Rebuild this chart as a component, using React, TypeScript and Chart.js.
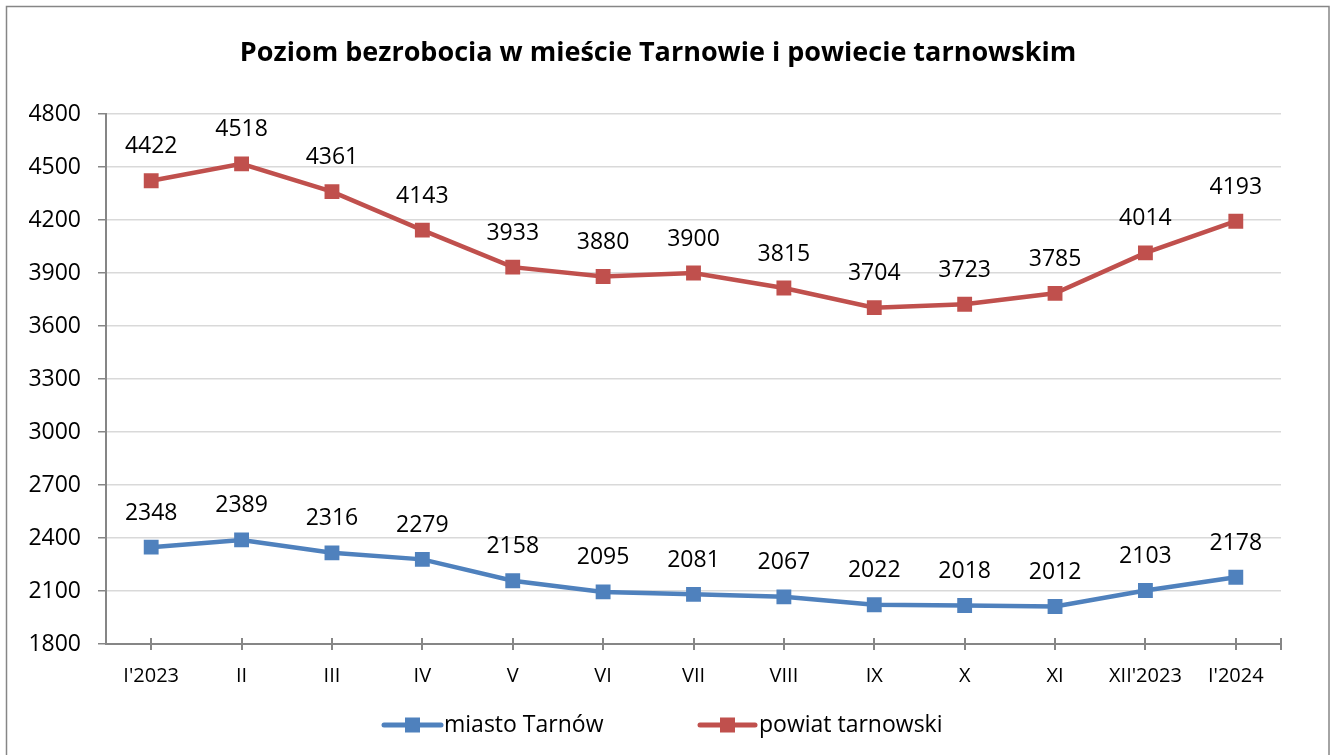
import React, { useEffect, useRef } from "react";
import { Chart, registerables } from "chart.js";

Chart.register(...registerables);

const categories = ["I'2023", "II", "III", "IV", "V", "VI", "VII", "VIII", "IX", "X", "XI", "XII'2023", "I'2024"];
const miastoTarnow = [2348, 2389, 2316, 2279, 2158, 2095, 2081, 2067, 2022, 2018, 2012, 2103, 2178];
const powiatTarnowski = [4422, 4518, 4361, 4143, 3933, 3880, 3900, 3815, 3704, 3723, 3785, 4014, 4193];
const yTicks = [1800, 2100, 2400, 2700, 3000, 3300, 3600, 3900, 4200, 4500, 4800];
const titleText = "Poziom bezrobocia w mieście Tarnowie i powiecie tarnowskim";
const seriesNames = ["miasto Tarnów", "powiat tarnowski"];

const BLUE = "#4F81BD";
const RED = "#C0504D";
const AXIS = "#868686";
const GRID = "#D9D9D9";
const FONT = "'Open Sans', sans-serif";

export default function App() {
  const ref = useRef<HTMLCanvasElement | null>(null);

  useEffect(() => {
    document.body.style.margin = "0";
    const canvas = ref.current!;
    const overlay = {
      id: "overlay",
      beforeDraw(chart: any) {
        const ctx = chart.ctx;
        ctx.save();
        ctx.fillStyle = "#ffffff";
        ctx.fillRect(0, 0, chart.width, chart.height);
        ctx.restore();
      },
      afterDraw(chart: any) {
        const ctx = chart.ctx;
        const xs = chart.scales.x;
        const ys = chart.scales.y;
        ctx.save();
        // frame
        ctx.strokeStyle = AXIS;
        ctx.lineWidth = 1.5;
        ctx.strokeRect(6.5, 6.5, 1322.5, 760);
        // title
        ctx.fillStyle = "#000";
        ctx.font = `bold 27px ${FONT}`;
        ctx.textAlign = "center";
        ctx.textBaseline = "middle";
        ctx.fillText(titleText, 658, 53);
        // x tick marks (crossing the axis)
        ctx.strokeStyle = AXIS;
        ctx.lineWidth = 2;
        const axisY = ys.getPixelForValue(1800);
        const positions: number[] = categories.map((_, i) => xs.getPixelForValue(i));
        positions.push(xs.right);
        positions.forEach((px) => {
          ctx.beginPath();
          ctx.moveTo(Math.round(px), axisY - 6);
          ctx.lineTo(Math.round(px), axisY + 6);
          ctx.stroke();
        });
        // data labels
        ctx.fillStyle = "#000";
        ctx.font = `23px ${FONT}`;
        ctx.textAlign = "center";
        ctx.textBaseline = "middle";
        chart.data.datasets.forEach((ds: any, di: number) => {
          const meta = chart.getDatasetMeta(di);
          meta.data.forEach((pt: any, i: number) => {
            ctx.fillText(String(ds.data[i]), pt.x, pt.y - 34);
          });
        });
        // legend
        const legendY = 725;
        const items = [
          { x0: 384, x1: 441, color: BLUE, text: seriesNames[0], tx: 444 },
          { x0: 700, x1: 755, color: RED, text: seriesNames[1], tx: 759 },
        ];
        items.forEach((it) => {
          ctx.strokeStyle = it.color;
          ctx.lineWidth = 5;
          ctx.lineCap = "round";
          ctx.beginPath();
          ctx.moveTo(it.x0, legendY);
          ctx.lineTo(it.x1, legendY);
          ctx.stroke();
          ctx.fillStyle = it.color;
          const mx = (it.x0 + it.x1) / 2;
          ctx.fillRect(mx - 7.5, legendY - 7.5, 15, 15);
          ctx.fillStyle = "#000";
          ctx.textAlign = "left";
          ctx.font = `23px ${FONT}`;
          ctx.fillText(it.text, it.tx, legendY);
        });
        ctx.restore();
      },
    };

    const chart = new Chart(canvas, {
      type: "line",
      data: {
        labels: categories,
        datasets: [
          {
            label: seriesNames[0],
            data: miastoTarnow,
            borderColor: BLUE,
            backgroundColor: BLUE,
            borderWidth: 4.5,
            pointStyle: "rect",
            pointRadius: 10.5,
            pointBorderWidth: 0,
            tension: 0,
          },
          {
            label: seriesNames[1],
            data: powiatTarnowski,
            borderColor: RED,
            backgroundColor: RED,
            borderWidth: 4.5,
            pointStyle: "rect",
            pointRadius: 10.5,
            pointBorderWidth: 0,
            tension: 0,
          },
        ],
      },
      options: {
        responsive: false,
        animation: false,
        devicePixelRatio: 1,
        layout: { padding: { left: 0, right: 54, top: 114, bottom: 0 } },
        plugins: {
          legend: { display: false },
          title: { display: false },
          tooltip: { enabled: false },
        },
        scales: {
          x: {
            type: "category",
            offset: true,
            grid: { display: false, drawTicks: false },
            border: { display: true, color: AXIS, width: 2 },
            ticks: {
              color: "#000",
              font: { family: FONT, size: 20 },
              padding: 20,
              maxRotation: 0,
              autoSkip: false,
            },
            afterFit: (s: any) => {
              s.height = 111;
            },
          },
          y: {
            min: 1800,
            max: 4800,
            afterBuildTicks: (s: any) => {
              s.ticks = yTicks.map((v) => ({ value: v }));
            },
            grid: {
              color: GRID,
              lineWidth: 1.5,
              tickColor: AXIS,
              tickLength: 8,
              drawTicks: true,
            },
            border: { display: true, color: AXIS, width: 2 },
            ticks: {
              color: "#000",
              font: { family: FONT, size: 23 },
              padding: 17,
              callback: (v: any) => String(v),
            },
            afterFit: (s: any) => {
              s.width = 106;
            },
          },
        },
      },
      plugins: [overlay],
    });
    return () => chart.destroy();
  }, []);

  return (
    <div style={{ position: "absolute", left: 0, top: 0, width: 1335, height: 755 }}>
      <canvas ref={ref} width={1335} height={755} style={{ display: "block", width: 1335, height: 755 }} />
    </div>
  );
}
